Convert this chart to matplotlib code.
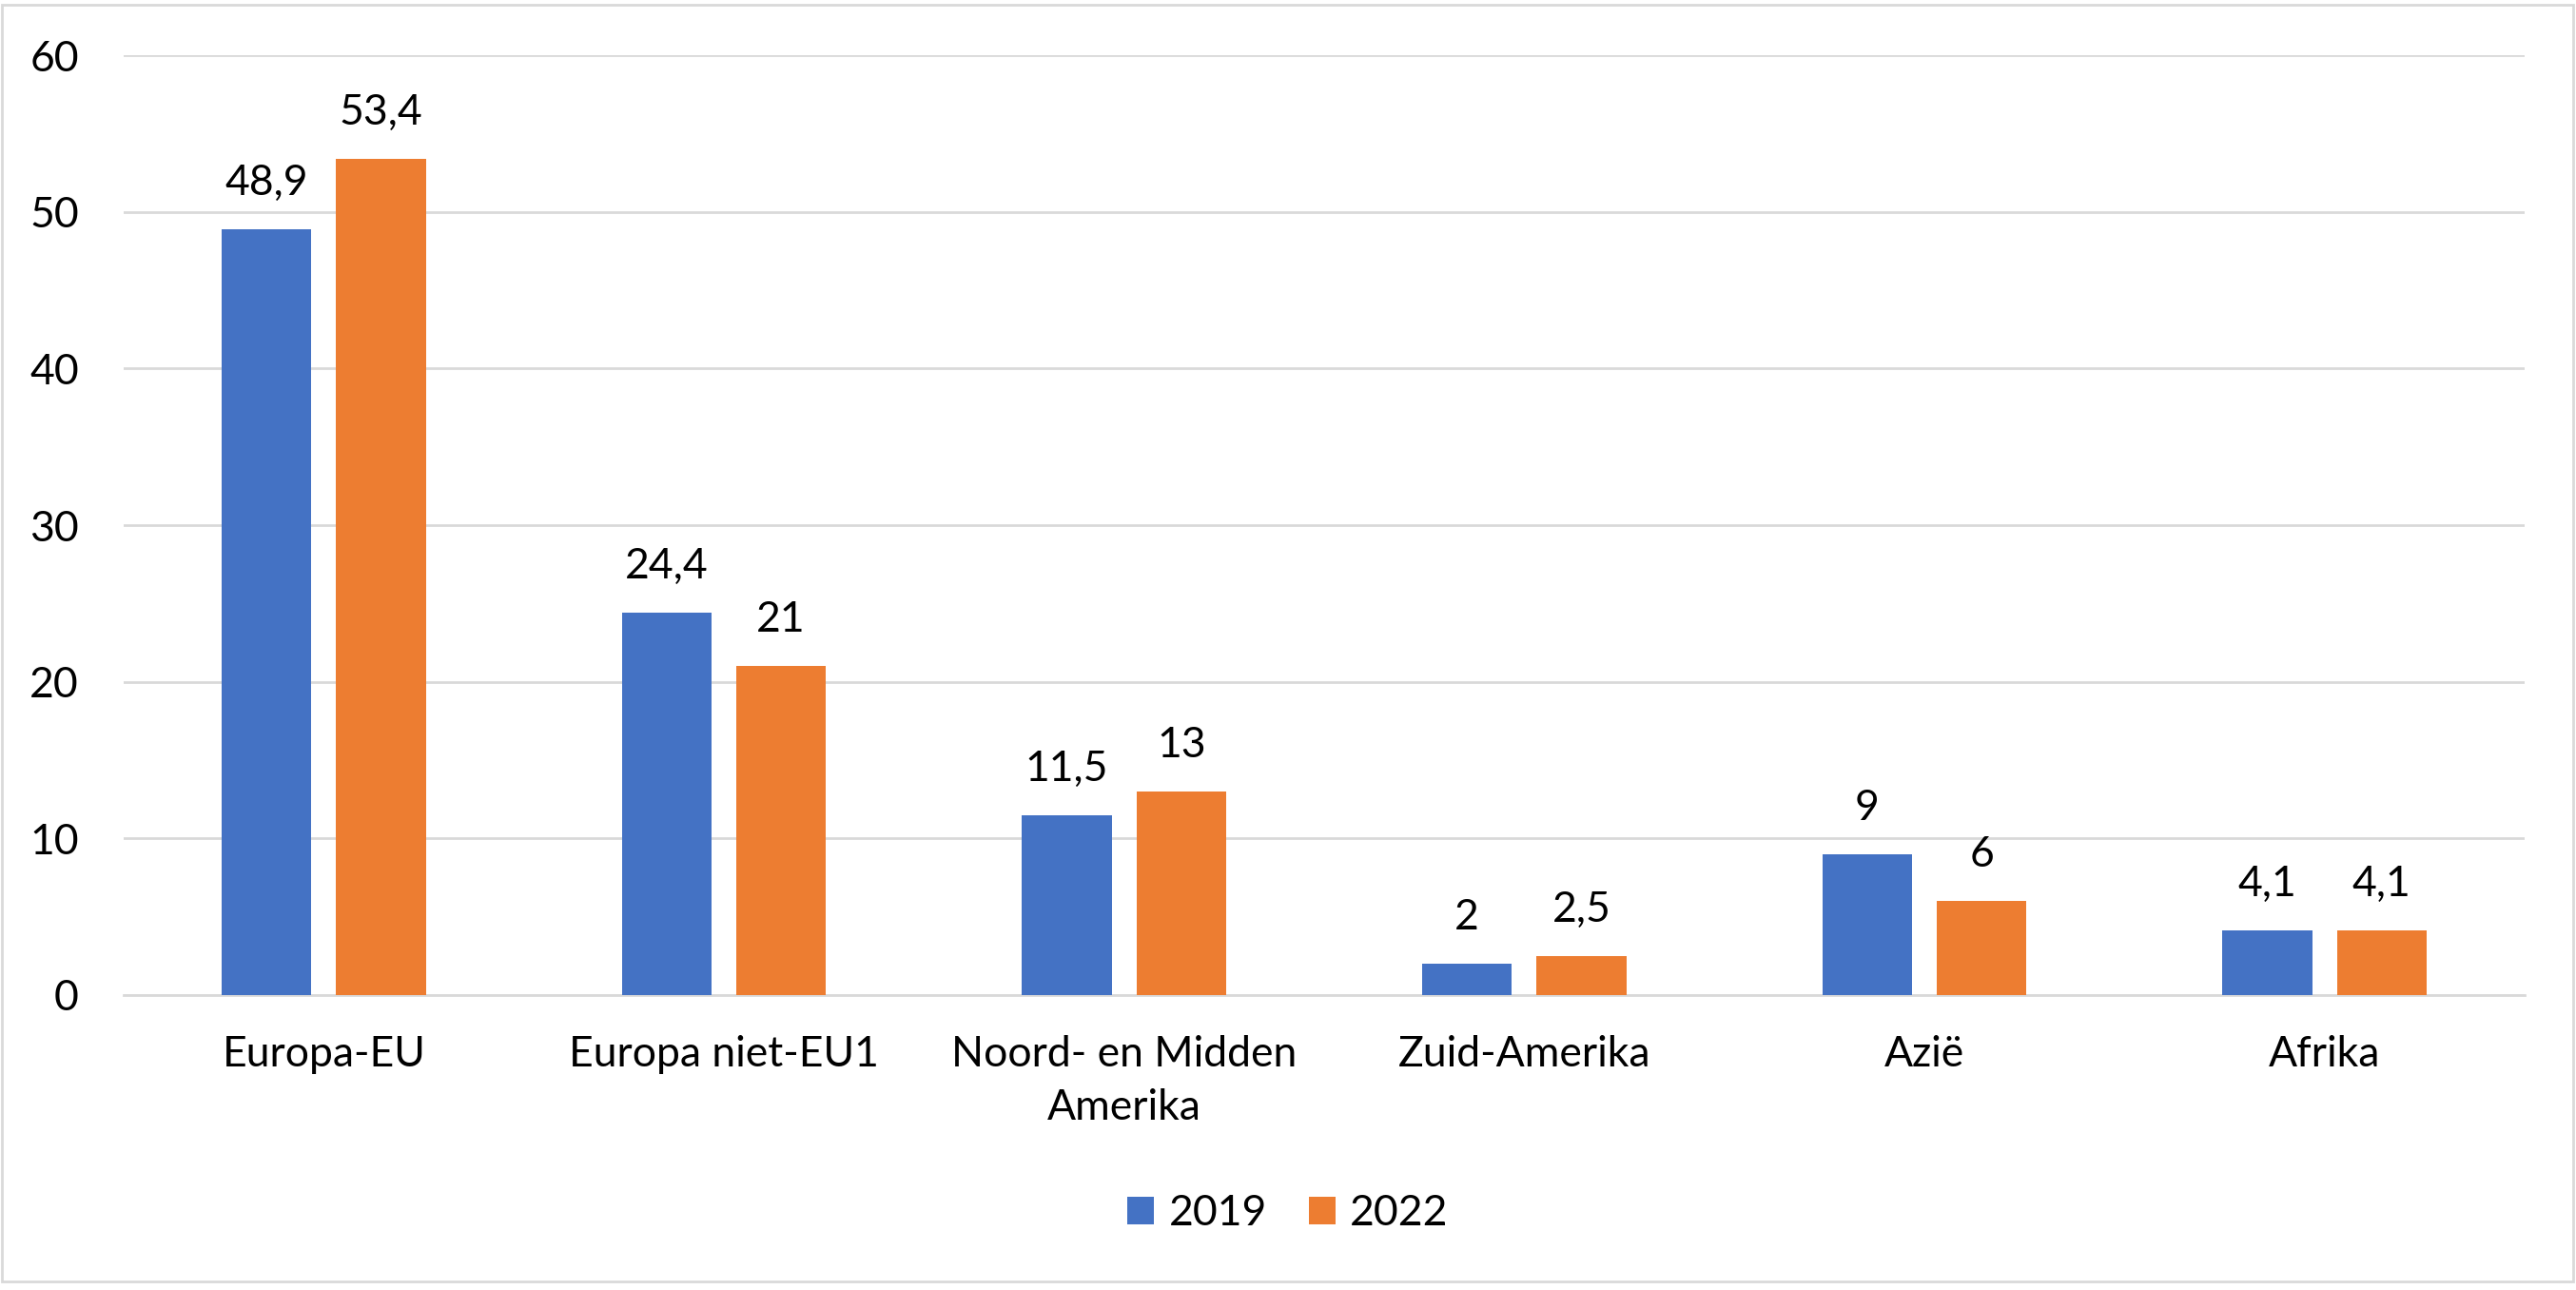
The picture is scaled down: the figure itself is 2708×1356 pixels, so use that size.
import numpy as np
import matplotlib.pyplot as plt
from matplotlib.patches import Rectangle

plt.rcParams["font.family"] = ["Lato", "DejaVu Sans"]

CATEGORIES = [
    "Europa-EU",
    "Europa niet-EU1",
    "Noord- en Midden\nAmerika",
    "Zuid-Amerika",
    "Azië",
    "Afrika",
]
VALUES_2019 = [48.9, 24.4, 11.5, 2, 9, 4.1]
VALUES_2022 = [53.4, 21, 13, 2.5, 6, 4.1]
SERIES_LABELS = ["2019", "2022"]
Y_TICKS = [0, 10, 20, 30, 40, 50, 60]

BLUE = "#4472C4"
ORANGE = "#ED7D31"
GRID = "#D9D9D9"
FS = 32


def fmt_value(v):
    """
    Dutch style number: comma decimal, no trailing ,0
    """
    if float(v).is_integer():
        return str(int(v))
    return f"{v:.1f}".replace(".", ",")


fig = plt.figure(figsize=(27.08, 13.56), dpi=100)
ax = fig.add_axes([130 / 2708, 1 - 1046 / 1356, (2654 - 130) / 2708, (1046 - 58) / 1356])

x = np.arange(len(CATEGORIES))
width = 0.224
offset = 0.143

bars_a = ax.bar(x - offset, VALUES_2019, width, color=BLUE, label=SERIES_LABELS[0], zorder=3)
bars_b = ax.bar(x + offset, VALUES_2022, width, color=ORANGE, label=SERIES_LABELS[1], zorder=3)

for bars, vals in [(bars_a, VALUES_2019), (bars_b, VALUES_2022)]:
    for bar, v in zip(bars, vals):
        ax.annotate(
            fmt_value(v),
            xy=(bar.get_x() + bar.get_width() / 2, v),
            xytext=(0, 26),
            textcoords="offset points",
            ha="center",
            va="baseline",
            fontsize=FS,
        )

ax.set_xlim(-0.5, len(CATEGORIES) - 0.5)
ax.set_ylim(0, 60)
ax.set_yticks(Y_TICKS)
ax.set_yticklabels([str(t) for t in Y_TICKS], fontsize=FS)
ax.set_xticks(x)
ax.set_xticklabels(CATEGORIES, fontsize=FS, linespacing=1.45)
ax.tick_params(axis="y", length=0, pad=34)
ax.tick_params(axis="x", length=0, pad=30)

ax.grid(axis="y", color=GRID, linewidth=2, zorder=0)
for side in ["top", "right", "left"]:
    ax.spines[side].set_visible(False)
ax.spines["bottom"].set_color(GRID)
ax.spines["bottom"].set_linewidth(2)

fig.legend(
    loc="center",
    bbox_to_anchor=(0.5, 1 - 1276 / 1356),
    ncol=2,
    frameon=False,
    fontsize=FS,
    handlelength=0.62,
    handleheight=0.62,
    handletextpad=0.35,
    columnspacing=1.0,
)

# light grey frame round the whole chart
fig.patches.append(
    Rectangle(
        (2 / 2708, 1 - 1347 / 1356),
        (2705 - 2) / 2708,
        (1347 - 5) / 1356,
        transform=fig.transFigure,
        fill=False,
        edgecolor=GRID,
        linewidth=2,
    )
)

fig.savefig("out.png", dpi=100)
